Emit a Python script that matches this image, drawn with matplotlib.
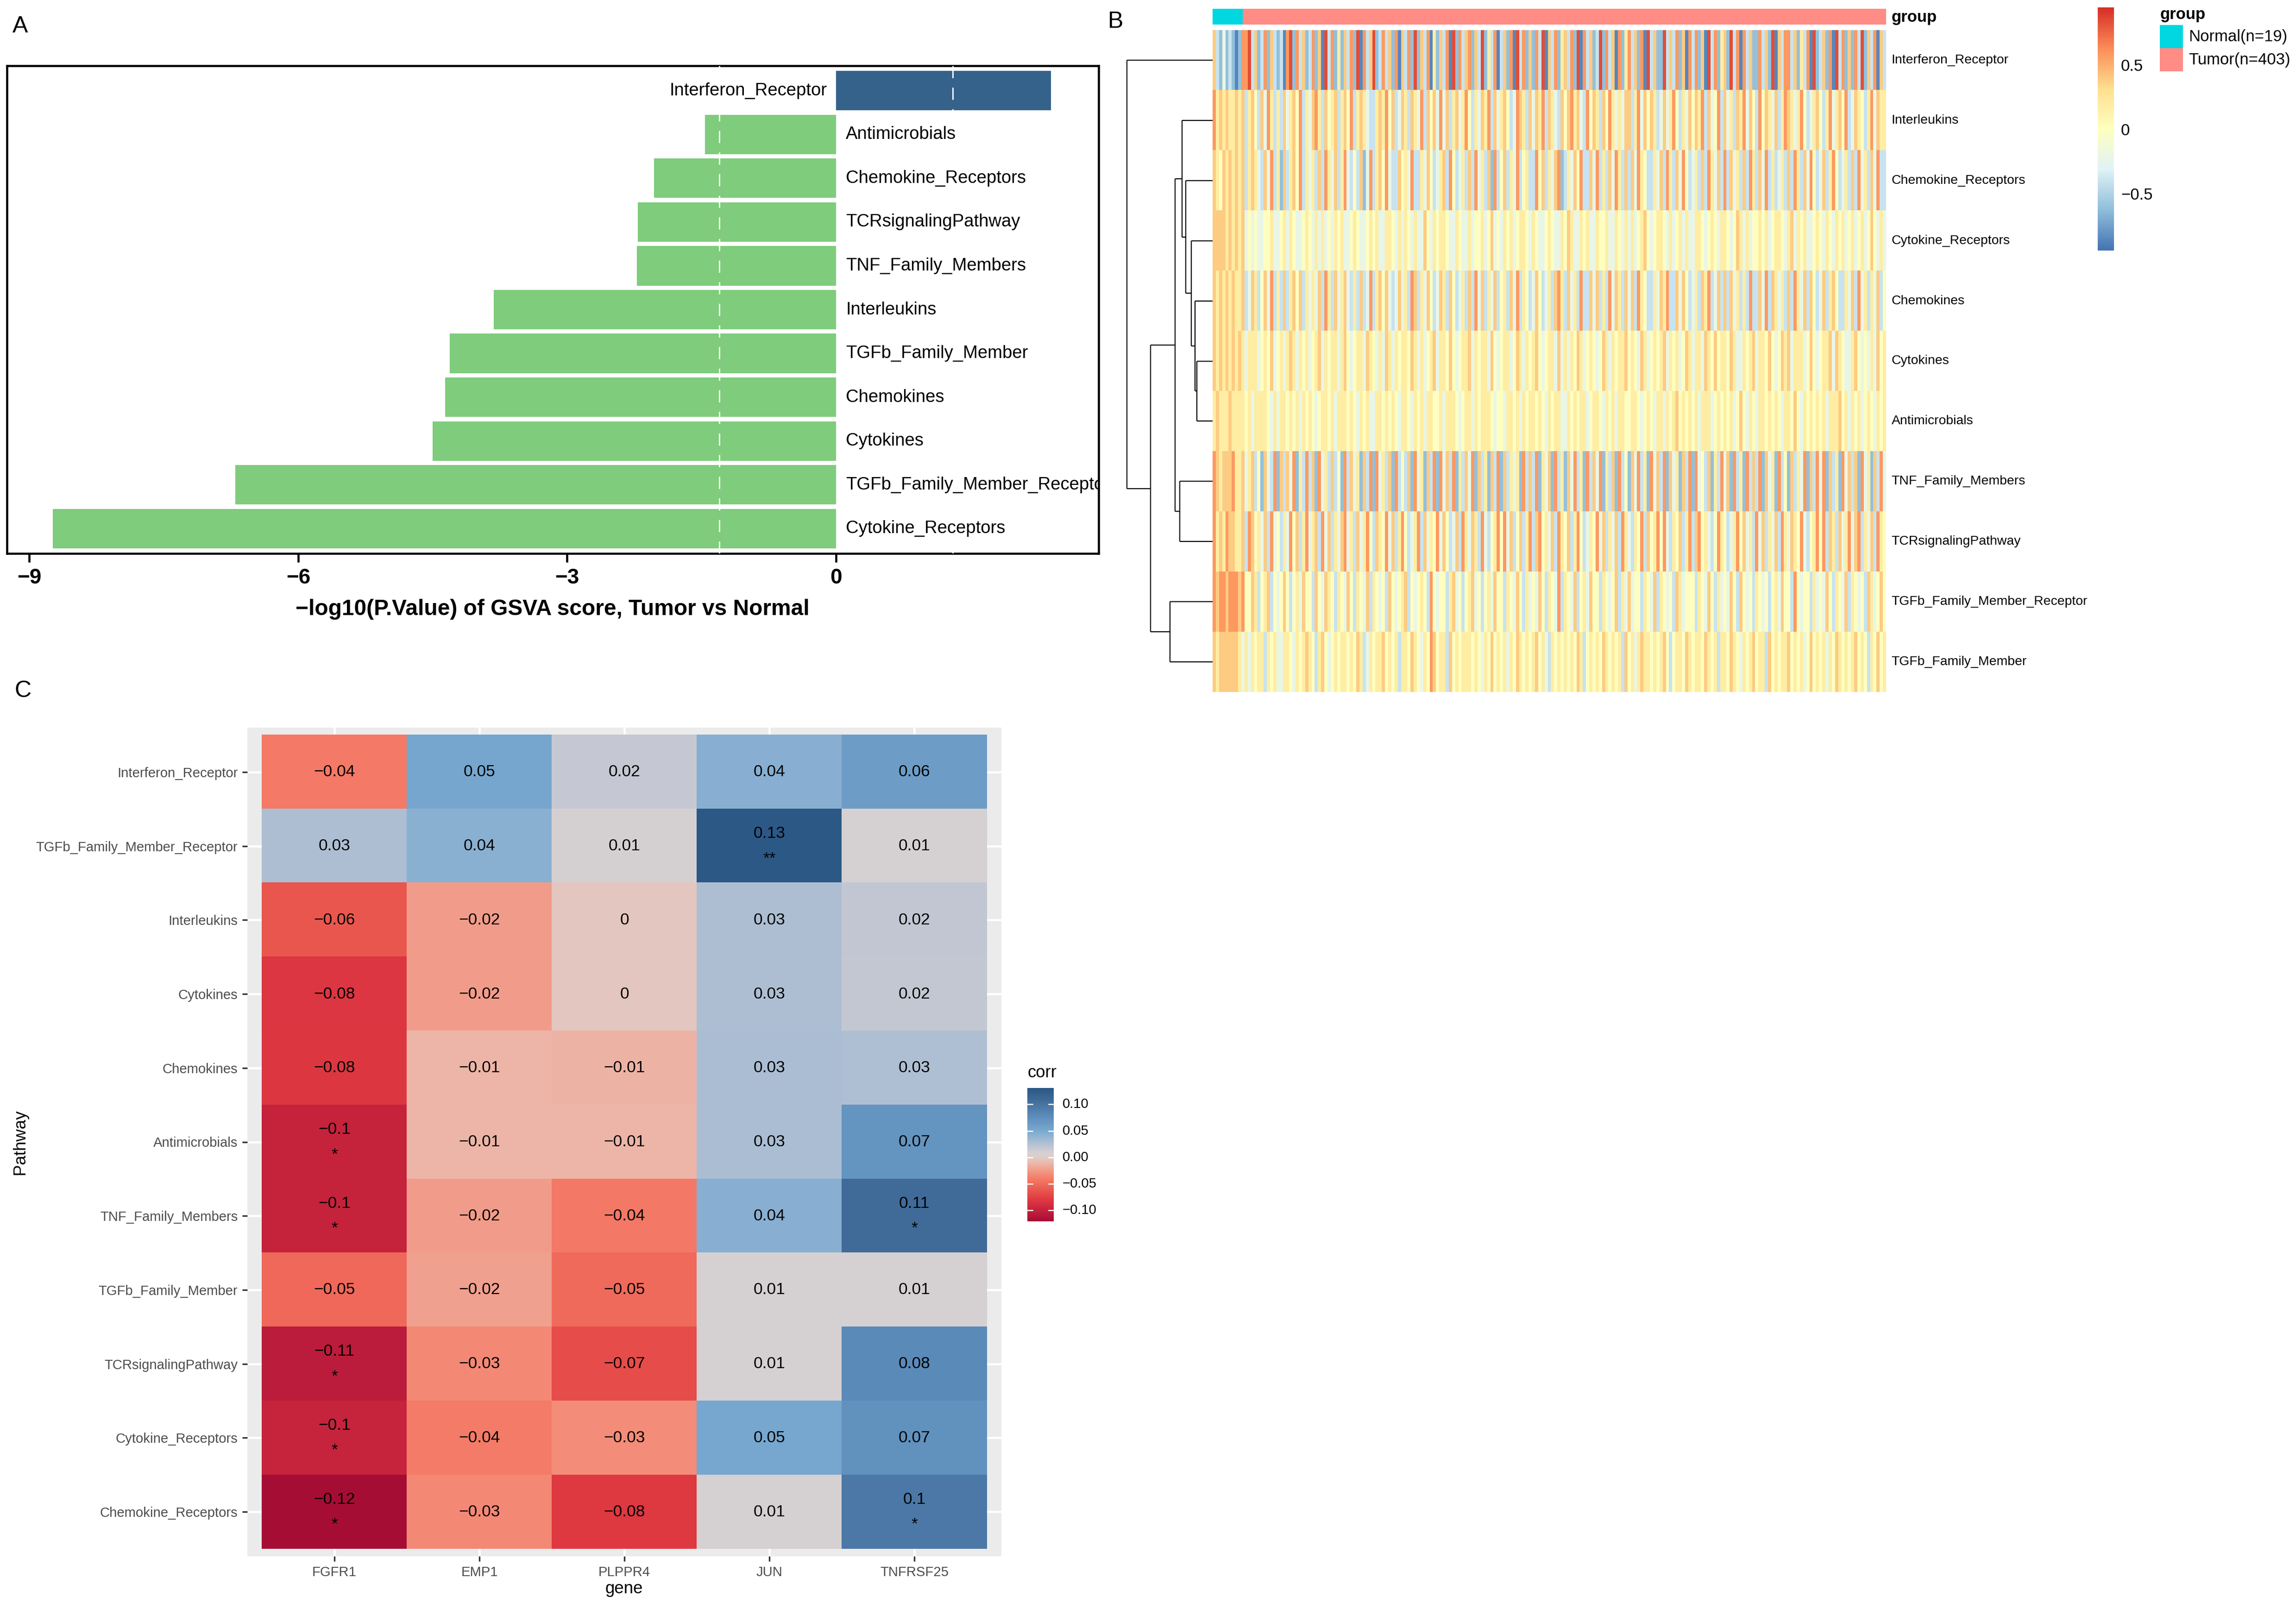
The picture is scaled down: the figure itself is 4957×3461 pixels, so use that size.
import numpy as np
import matplotlib.pyplot as plt
from matplotlib.colors import LinearSegmentedColormap, ListedColormap, Normalize
from matplotlib.patches import Rectangle

plt.rcParams['font.family'] = ['Liberation Sans', 'DejaVu Sans']

# ============================================================
# DATA
# ============================================================
# A: -log10(p) of GSVA score, signed (tumor vs normal)
a_pathways = ["Interferon_Receptor", "Antimicrobials", "Chemokine_Receptors",
              "TCRsignalingPathway", "TNF_Family_Members", "Interleukins",
              "TGFb_Family_Member", "Chemokines", "Cytokines",
              "TGFb_Family_Member_Receptor", "Cytokine_Receptors"]
a_scores = [2.40, -1.46, -2.03, -2.21, -2.22, -3.82, -4.31, -4.36, -4.50, -6.70, -8.74]
P_CUT = 1.301

# B: GSVA heatmap (each code = 2 samples, 1..9 -> level value)
n_normal = 19
n_tumor = 403
b_rows = ["Interferon_Receptor", "Interleukins", "Chemokine_Receptors",
          "Cytokine_Receptors", "Chemokines", "Cytokines", "Antimicrobials",
          "TNF_Family_Members", "TCRsignalingPathway",
          "TGFb_Family_Member_Receptor", "TGFb_Family_Member"]
level_values = [-0.85, -0.6, -0.4, -0.2, 0.0, 0.2, 0.4, 0.6, 0.85]
b_codes = [
    ["7324232128", "8937238273", "2318928372", "3827193826", "2738291837", "9238372817",
     "3829273816", "2738192837", "8273926381", "3728193827", "2839173826", "7382918372",
     "3928371826", "8372819372", "2937382718", "3827193826", "7293818372", "2837291738",
     "8372638192", "3728193827", "2839273817", "3"],
    ["8676766767", "3675374863", "6374675836", "4786375673", "6758367643", "3676857347",
     "6376483757", "4847367468", "5364768374", "6753487637", "4768376437", "5786743857",
     "6375864647", "7368475763", "4746853647", "5768374583", "7463768475", "3857647368",
     "7646853467", "5368467583", "4765368476", "6"],
    ["7657676767", "3676437483", "6273675836", "4637386473", "6843537248", "3675843375",
     "6483364753", "4673853463", "7384637283", "5736483563", "3857364782", "3647583374",
     "8363748637", "3748653364", "7386374853", "4637386473", "8374637386", "3748363463",
     "7386374853", "4736853463", "7384637483", "3"],
    ["7777676767", "4545445564", "4564654456", "5464645465", "6445654456", "5644665464",
     "6546447546", "5665446544", "6455645745", "4656456654", "6544565446", "5764465644",
     "6556446546", "4645675456", "6546456464", "4665456546", "6545764645", "5656456654",
     "6746564456", "5465465645", "6456457546", "4"],
    ["7676767667", "3476357483", "6373675736", "4647386374", "6743637348", "3675743474",
     "6387364753", "4763753463", "7384736473", "5637483653", "4753463786", "3746383374",
     "7363847637", "4738653364", "7683374753", "4637683473", "7374636383", "3748376463",
     "7386473753", "4736753364", "7384636473", "5"],
    ["7676767676", "4666456574", "5646764656", "4567465664", "6754566476", "5464764656",
     "6576464567", "4665754566", "7465664754", "5664576465", "6754566474", "6465764565",
     "4576465667", "5654764565", "6746564576", "4664765756", "6576446567", "4665754576",
     "7466645754", "5667476544", "6754546475", "6"],
    ["6766676666", "5646666546", "4665656465", "6545665646", "6656546564", "4665656546",
     "6546564665", "5646665456", "6465666545", "5466564656", "6565465664", "4656566456",
     "6546564665", "5665456546", "6465675656", "5646664565", "6564575465", "4665656546",
     "6575465656", "5646667564", "6564565465", "6"],
    ["8767778667", "4673527438", "2737482638", "3728463735", "2837462738", "2846372835",
     "3728462738", "2847382637", "4827362738", "2736462837", "3826472836", "2748362837",
     "4826372835", "2748362847", "3827462738", "2845372638", "4728362837", "3827462835",
     "2736482738", "4827362847", "3728462738", "4"],
    ["8676877667", "3875647384", "5364857368", "4673847364", "7846374685", "3765847368",
     "5346837465", "8475347386", "4763843568", "5847357368", "3785647386", "5736853465",
     "8473647386", "4365837568", "5843657368", "3785643586", "5346857463", "8473647386",
     "4765843568", "5837637468", "4783647386", "5"],
    ["8788788878", "5576356735", "4575356475", "5375476536", "5475365473", "6545375456",
     "7354565385", "4553674535", "6745356475", "5365475364", "5475365483", "6547356475",
     "5365457364", "7455365473", "6545376455", "5365475364", "5475375453", "6545356475",
     "5385455364", "5475365473", "6545376457", "5"],
    ["7677777764", "6465663656", "4466546567", "6536754565", "6656576346", "5667565636",
     "6576546587", "5663756566", "6565465756", "5646576565", "6756436565", "6565763565",
     "6576565637", "5646766565", "6753566576", "5665765636", "6576546567", "5663756566",
     "7565645756", "5646576565", "6756536575", "6"],
]
# row clustering: (left, right, height); ids >= 11 refer to earlier merges
b_merges = [(5, 6, 0.184), (4, 11, 0.204), (3, 12, 0.249), (2, 13, 0.315),
            (1, 14, 0.355), (7, 8, 0.384), (15, 16, 0.436), (9, 10, 0.495),
            (17, 18, 0.726), (0, 19, 1.0)]
b_vmin, b_vmax = -0.93, 0.96

# C: correlation of pathway score with genes
c_pathways = ["Interferon_Receptor", "TGFb_Family_Member_Receptor", "Interleukins",
              "Cytokines", "Chemokines", "Antimicrobials", "TNF_Family_Members",
              "TGFb_Family_Member", "TCRsignalingPathway", "Cytokine_Receptors",
              "Chemokine_Receptors"]
c_genes = ["FGFR1", "EMP1", "PLPPR4", "JUN", "TNFRSF25"]
c_corr = [
    [-0.042, 0.053, 0.017, 0.044, 0.062],
    [0.028, 0.043, 0.008, 0.131, 0.007],
    [-0.062, -0.024, -0.003, 0.028, 0.019],
    [-0.083, -0.024, -0.003, 0.028, 0.018],
    [-0.082, -0.012, -0.013, 0.029, 0.027],
    [-0.100, -0.012, -0.012, 0.029, 0.069],
    [-0.100, -0.024, -0.043, 0.044, 0.108],
    [-0.052, -0.022, -0.051, 0.007, 0.007],
    [-0.106, -0.034, -0.068, 0.007, 0.079],
    [-0.099, -0.041, -0.032, 0.052, 0.072],
    [-0.121, -0.034, -0.081, 0.007, 0.096],
]
c_stars = [
    ["", "", "", "", ""],
    ["", "", "", "**", ""],
    ["", "", "", "", ""],
    ["", "", "", "", ""],
    ["", "", "", "", ""],
    ["*", "", "", "", ""],
    ["*", "", "", "", "*"],
    ["", "", "", "", ""],
    ["*", "", "", "", ""],
    ["*", "", "", "", ""],
    ["*", "", "", "", "*"],
]

# ============================================================
# FIGURE
# ============================================================
W, H = 4957, 3461
fig = plt.figure(figsize=(W / 300, H / 300), dpi=300)


def box(x0, y0, x1, y1):
    return [x0 / W, 1 - y1 / H, (x1 - x0) / W, (y1 - y0) / H]


def fpt(x, y):
    return x / W, 1 - y / H


# ---------------- A ----------------
axA = fig.add_axes(box(15, 142, 2372, 1195))
ypos = np.arange(len(a_pathways))
bar_cols = ["#35628A" if v > 0 else "#7FCC7C" for v in a_scores]
axA.barh(ypos, a_scores, height=0.9, color=bar_cols, zorder=2)
for xv in (-P_CUT, P_CUT):
    axA.axvline(xv, color="white", lw=0.7, ls=(0, (9, 7)), zorder=3)
for y, name, v in zip(ypos, a_pathways, a_scores):
    if v > 0:
        axA.text(-0.1, y, name, ha="right", va="center", fontsize=9.2, clip_on=True, zorder=4)
    else:
        axA.text(0.11, y, name, ha="left", va="center", fontsize=9.2, clip_on=True, zorder=4)
axA.set_xlim(-9.25, 2.93)
axA.set_ylim(10.57, -0.57)
axA.set_xticks([-9, -6, -3, 0])
plt.setp(axA.get_xticklabels(), fontweight="bold", fontsize=11)
axA.set_yticks([])
axA.tick_params(axis="x", length=4.5, width=1.1, pad=3)
for s in axA.spines.values():
    s.set_linewidth(1.1)
fig.text(*fpt(1193, 1315), "\u2212log10(P.Value) of GSVA score, Tumor vs Normal",
         ha="center", va="center", fontsize=11.5, fontweight="bold")

# ---------------- B ----------------
mat = np.array([[level_values[int(c) - 1] for c in "".join(segs)] for segs in b_codes])
n_samples = n_normal + n_tumor
cmapB = LinearSegmentedColormap.from_list(
    "rdylbu", ["#4575B4", "#91BFDB", "#E0F3F8", "#FFFFBF", "#FEE090", "#FC8D59", "#D73027"], N=100)

axH = fig.add_axes(box(2618, 65, 4072, 1494))
axH.imshow(mat, cmap=cmapB, vmin=b_vmin, vmax=b_vmax, aspect="auto",
           interpolation="nearest", extent=(0, n_samples, len(b_rows), 0))
axH.set_axis_off()
for i, name in enumerate(b_rows):
    axH.text(1.008, i + 0.5, name, transform=axH.get_yaxis_transform(),
             ha="left", va="center", fontsize=6.8)

axG = fig.add_axes(box(2618, 19, 4072, 53))
groups = np.repeat([0, 1], [n_normal, n_tumor])[None, :]
axG.imshow(groups, cmap=ListedColormap(["#00D7E0", "#FF8C85"]), vmin=0, vmax=1,
           aspect="auto", interpolation="nearest")
axG.set_axis_off()
fig.text(*fpt(4084, 37), "group", ha="left", va="center", fontsize=8.3, fontweight="bold")

# dendrogram
axD = fig.add_axes(box(2433, 65, 2618, 1494))
node_y = {i: i + 0.5 for i in range(len(b_rows))}
node_h = {i: 0.0 for i in range(len(b_rows))}
for k, (l, r, h) in enumerate(b_merges):
    nid = len(b_rows) + k
    for c in (l, r):
        axD.plot([node_h[c], h], [node_y[c], node_y[c]], color="black", lw=0.55,
                 solid_capstyle="butt", clip_on=False)
    axD.plot([h, h], [node_y[l], node_y[r]], color="black", lw=0.55,
             solid_capstyle="butt", clip_on=False)
    node_y[nid] = (node_y[l] + node_y[r]) / 2
    node_h[nid] = h
axD.set_xlim(1.0, 0)
axD.set_ylim(len(b_rows), 0)
axD.set_axis_off()

# colour legend B
axCB = fig.add_axes(box(4529, 16, 4564, 541))
grad = np.linspace(b_vmin, b_vmax, 100)[:, None]
axCB.imshow(grad, cmap=cmapB, vmin=b_vmin, vmax=b_vmax, aspect="auto",
            origin="lower", extent=(0, 1, b_vmin, b_vmax), interpolation="nearest")
axCB.set_ylim(b_vmin, b_vmax)
axCB.set_axis_off()
for t, lab in [(0.5, "0.5"), (0.0, "0"), (-0.5, "\u22120.5")]:
    axCB.text(1.43, t, lab, transform=axCB.get_yaxis_transform(),
              ha="left", va="center", fontsize=8.3)

# group legend
fig.text(*fpt(4664, 32), "group", ha="left", va="center", fontsize=8.3, fontweight="bold")
for j, (lab, col) in enumerate([(f"Normal(n={n_normal})", "#00D7E0"),
                                (f"Tumor(n={n_tumor})", "#FF8C85")]):
    y0 = 54 + 50 * j
    fig.add_artist(Rectangle((4663 / W, 1 - (y0 + 50) / H), 50 / W, 50 / H,
                             transform=fig.transFigure, color=col, lw=0))
    fig.text(*fpt(4725, y0 + 25), lab, ha="left", va="center", fontsize=8.3)

# ---------------- C ----------------
corr = np.array(c_corr)
c_vmin, c_vmax = corr.min(), corr.max()
c_nodes = [(-0.121, "#A60D35"), (-0.11, "#B7193A"), (-0.10, "#C6233D"), (-0.08, "#E03A42"),
           (-0.06, "#EB5B50"), (-0.04, "#F57D69"), (-0.02, "#F0A593"), (-0.01, "#EBBBAE"),
           (0.0, "#E0CCC8"), (0.008, "#D5D1D2"), (0.02, "#C1C6D3"), (0.03, "#A9BDD4"),
           (0.05, "#7AAAD0"), (0.08, "#5A8AB8"), (0.11, "#3F6A98"), (0.131, "#2C5886")]
cmapC = LinearSegmentedColormap.from_list(
    "corr", [((v - c_vmin) / (c_vmax - c_vmin), col) for v, col in c_nodes])
normC = Normalize(c_vmin, c_vmax)

axC = fig.add_axes(box(534, 1571, 2162, 3360))
axC.set_facecolor("#EBEBEB")
axC.imshow(corr, cmap=cmapC, norm=normC, aspect="auto", interpolation="nearest",
           extent=(-0.5, len(c_genes) - 0.5, len(c_pathways) - 0.5, -0.5), zorder=2)
axC.set_xlim(-0.6, len(c_genes) - 0.4)
axC.set_ylim(len(c_pathways) - 0.4, -0.6)
axC.set_axisbelow(True)
axC.grid(True, color="white", lw=1.1)
axC.set_xticks(range(len(c_genes)))
axC.set_xticklabels(c_genes)
axC.set_yticks(range(len(c_pathways)))
axC.set_yticklabels(c_pathways)
axC.tick_params(color="#333333", labelcolor="#4D4D4D", labelsize=7.04,
                length=2.75, width=0.8, pad=2.2)
for s in axC.spines.values():
    s.set_visible(False)


def fmt(v):
    r = round(v, 2)
    if r == 0:
        return "0"
    return f"{r:g}".replace("-", "\u2212")


for i in range(len(c_pathways)):
    for j in range(len(c_genes)):
        st = c_stars[i][j]
        if st:
            axC.text(j, i - 0.17, fmt(corr[i, j]), ha="center", va="center", fontsize=8.5, zorder=3)
            axC.text(j, i + 0.17, st, ha="center", va="center", fontsize=8.5, zorder=3)
        else:
            axC.text(j, i, fmt(corr[i, j]), ha="center", va="center", fontsize=8.5, zorder=3)

fig.text(*fpt(44, 2466), "Pathway", rotation=90, ha="center", va="center", fontsize=8.8)
fig.text(*fpt(1347, 3430), "gene", ha="center", va="center", fontsize=8.8)

# colour legend C
axCC = fig.add_axes(box(2218, 2349, 2275, 2637))
gradC = np.linspace(c_vmin, c_vmax, 256)[:, None]
axCC.imshow(gradC, cmap=cmapC, norm=normC, aspect="auto", origin="lower",
            extent=(0, 1, c_vmin, c_vmax))
axCC.set_ylim(c_vmin, c_vmax)
axCC.set_xlim(0, 1)
for t in [-0.10, -0.05, 0.0, 0.05, 0.10]:
    axCC.plot([0, 0.2], [t, t], color="white", lw=0.6)
    axCC.plot([0.8, 1], [t, t], color="white", lw=0.6)
    axCC.text(1.333, t, f"{t:.2f}".replace("-", "\u2212"), transform=axCC.get_yaxis_transform(),
              ha="left", va="center", fontsize=7.04)
axCC.set_axis_off()
fig.text(*fpt(2219, 2317), "corr", ha="left", va="center", fontsize=8.8)

# panel letters
fig.text(*fpt(44, 57), "A", ha="center", va="center", fontsize=12)
fig.text(*fpt(2409, 47), "B", ha="center", va="center", fontsize=12)
fig.text(*fpt(50, 1492), "C", ha="center", va="center", fontsize=12)

fig.savefig("out.png", dpi=300)
